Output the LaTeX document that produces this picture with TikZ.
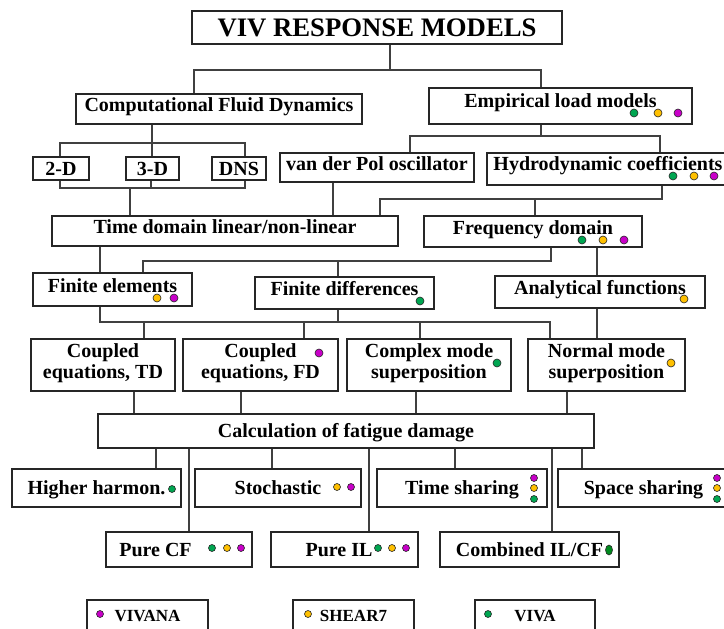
\documentclass[tikz,border=0pt]{standalone}
\usepackage{fontspec}
\setmainfont{Liberation Serif}
\usepackage{tikz}
\usetikzlibrary{shapes}
\definecolor{vivana}{HTML}{C800C8}
\definecolor{shear}{HTML}{FFC000}
\definecolor{viva}{HTML}{00A651}
\definecolor{vivadark}{HTML}{008A1E}
\tikzset{>=latex}
\tikzset{frame/.style={draw=black!85, line width=1.4pt, fill=white, inner sep=0pt, font=\fontsize{20}{21}\selectfont\bfseries},
  box/.style={frame, text height=14pt, text depth=0.8pt},
  raised/.style={text depth=8.8pt},
  raisedmore/.style={text depth=11.5pt},
  twoline/.style={frame, align=center, text depth=8pt},
  legendbox/.style={frame, font=\fontsize{17}{18}\selectfont\bfseries, text height=12pt, text depth=0.8pt},
  link/.style={draw=black!75, line width=1.2pt},
  spot/.style={circle, draw=black!85, line width=0.6pt, inner sep=0pt, minimum size=8pt},
  smallspot/.style={spot, minimum size=7pt}}

\begin{document}
\begin{tikzpicture}[x=1pt, y=-1pt]
      \useasboundingbox (0,0) rectangle (724,629);
      \clip (0,0) rectangle (724,629);
      \node[box, line width=2.2pt, minimum width=370pt, minimum height=33pt, text height=19pt, text depth=1.3pt, font=\fontsize{26.7}{28}\selectfont\bfseries] (title) at (377,27.5) {VIV RESPONSE MODELS};
      \node[box, raised, minimum width=286pt, minimum height=30pt] (cfd) at (219,109) {Computational Fluid Dynamics};
      \node[box, raisedmore, minimum width=263pt, minimum height=36pt] (emp) at (560.5,106) {Empirical load models};
      \node[box, minimum width=56pt, minimum height=23pt] (twod) at (61,168.5) {2-D};
      \node[box, minimum width=53pt, minimum height=23pt] (threed) at (152.5,168.5) {3-D};
      \node[box, minimum width=54pt, minimum height=23pt] (dns) at (239,168.5) {DNS};
      \node[box, raised, minimum width=194pt, minimum height=29pt] (vdp) at (377,167.5) {van der Pol oscillator};
      \node[box, raisedmore, minimum width=242pt, minimum height=32pt] (hydro) at (608,169) {Hydrodynamic coefficients};
      \node[box, raised, minimum width=346pt, minimum height=30pt] (time) at (225,231) {Time domain linear/non-linear};
      \node[box, raised, minimum width=218pt, minimum height=31pt] (freq) at (533,231.5) {Frequency domain};
      \node[box, raised, minimum width=159pt, minimum height=33pt] (fe) at (112.5,289.5) {Finite elements};
      \node[box, raised, minimum width=179pt, minimum height=32pt] (fd) at (344.5,293) {Finite differences};
      \node[box, raised, minimum width=210pt, minimum height=32pt] (af) at (600,292) {Analytical functions};
      \node[twoline, minimum width=144pt, minimum height=52pt] (ctd) at (103,365) {Coupled\\equations, TD};
      \node[twoline, minimum width=155pt, minimum height=52pt] (cfdd) at (260.5,365) {Coupled\\equations, FD};
      \node[twoline, minimum width=164pt, minimum height=52pt] (cms) at (429,365) {Complex mode\\superposition};
      \node[twoline, minimum width=157pt, minimum height=52pt] (nms) at (606.5,365) {Normal mode\\superposition};
      \node[box, minimum width=496pt, minimum height=34pt] (calc) at (346,431) {Calculation of fatigue damage};
      \node[box, minimum width=169pt, minimum height=38pt] (hh) at (96.5,488) {Higher harmon.};
      \node[box, minimum width=166pt, minimum height=38pt] (sto) at (278,488) {Stochastic};
      \node[box, minimum width=170pt, minimum height=38pt] (ts) at (462,488) {Time sharing};
      \node[box, minimum width=171pt, minimum height=38pt] (ss) at (643.5,488) {Space sharing};
      \node[box, minimum width=146pt, minimum height=35pt] (pcf) at (179,549.5) {Pure CF\hspace*{47pt}};
      \node[box, minimum width=147pt, minimum height=35pt] (pil) at (344.5,549.5) {Pure IL\hspace*{11pt}};
      \node[box, minimum width=179pt, minimum height=35pt] (comb) at (529.5,549.5) {Combined IL/CF};
      \node[legendbox, minimum width=121pt, minimum height=31pt] (lvivana) at (147.5,615.5) {VIVANA};
      \node[legendbox, minimum width=121pt, minimum height=31pt] (lshear) at (353.5,615.5) {SHEAR7};
      \node[legendbox, minimum width=120pt, minimum height=31pt] (lviva) at (535,615.5) {VIVA};

      \coordinate (j1) at (390,70);
      \coordinate (j2) at (152,143);
      \coordinate (j3) at (130,188);
      \coordinate (j4) at (541,136);
      \coordinate (j5) at (662,199);
      \coordinate (j6) at (551,261);
      \coordinate (j7) at (550,322);
      \draw[link] (title.south -| j1) -- (j1);
      \draw[link] (cfd.north -| 194,0) |- (j1) -| (emp.north -| 541,0);
      \draw[link] (cfd.south -| j2) -- (threed.north -| j2);
      \draw[link] (twod.north -| 60,0) |- (j2) -| (dns.north -| 245,0);
      \draw[link] (twod.south -| 60,0) |- (j3) -| (dns.south -| 245,0);
      \draw[link] (threed.south -| 151,0) -- (j3 -| 151,0);
      \draw[link] (j3) -- (time.north -| j3);
      \draw[link] (emp.south -| j4) -- (j4);
      \draw[link] (vdp.north -| 410,0) |- (j4) -| (hydro.north -| 660,0);
      \draw[link] (vdp.south -| 333,0) -- (time.north -| 333,0);
      \draw[link] (hydro.south -| j5) -- (j5) -| (time.north -| 380,0);
      \draw[link] (j5 -| 535,0) -- (freq.north -| 535,0);
      \draw[link] (time.south -| 100,0) -- (fe.north -| 100,0);
      \draw[link] (freq.south -| j6) -- (j6) -| (fe.north -| 143,0);
      \draw[link] (j6 -| 338,0) -- (fd.north -| 338,0);
      \draw[link] (freq.south -| 597,0) -- (af.north -| 597,0);
      \draw[link] (fe.south -| 100,0) |- (j7) -- (nms.north -| j7);
      \draw[link] (fd.south -| 338,0) -- (j7 -| 338,0);
      \foreach \n/\x in {ctd/144, cfdd/304, cms/420}
        \draw[link] (j7 -| \x,0) -- (\n.north -| \x,0);
      \draw[link] (af.south -| 597,0) -- (nms.north -| 597,0);
      \foreach \n/\x in {ctd/134, cfdd/241, cms/416, nms/567}
        \draw[link] (\n.south -| \x,0) -- (calc.north -| \x,0);
      \foreach \n/\x in {hh/156, pcf/189, sto/272, pil/369, ts/455, comb/552, ss/582}
        \draw[link] (calc.south -| \x,0) -- (\n.north -| \x,0);

      \foreach \x/\y/\c [count=\i] in {634/113/viva, 658/113/shear, 678/113/vivana,
          673/176/viva, 694/176/shear, 714/176/vivana,
          582/240/viva, 603/240/shear, 624/240/vivana,
          157/298/shear, 174/298/vivana, 420/301/viva, 684/299/shear,
          319/353/vivana, 497/363/viva, 671/363/shear}
        \node[spot, fill=\c] (spot\i) at (\x,\y) {};
      \foreach \x/\y/\c [count=\i] in {172/489/viva, 337/487/shear, 351/487/vivana,
          534/478/vivana, 534/488/shear, 534/499/viva,
          717/478/vivana, 717/488/shear, 717/499/viva,
          212/548/viva, 227/548/shear, 241/548/vivana,
          378/548/viva, 392/548/shear, 406/548/vivana,
          100/614/vivana, 308/614/shear, 488/614/viva}
        \node[smallspot, fill=\c] (small\i) at (\x,\y) {};
      \node[ellipse, draw=black!85, line width=0.6pt, fill=vivadark, inner sep=0pt, minimum width=7pt, minimum height=10pt] (darkspot) at (609,550) {};
    \end{tikzpicture}
\end{document}
